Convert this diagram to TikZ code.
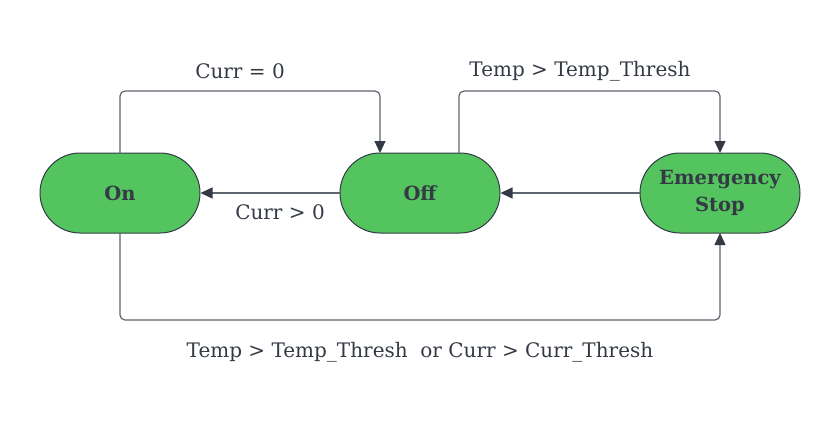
\documentclass[tikz,border=0pt]{standalone}
\usepackage{fontspec}
\setmainfont{DejaVu Serif}
\usetikzlibrary{arrows.meta}
\definecolor{stgreen}{HTML}{54C45E}
\definecolor{txt}{HTML}{343A45}
\definecolor{ln}{HTML}{5F656E}
\begin{document}
\begin{tikzpicture}[x=1pt,y=-1pt,
  state/.style={draw=txt, line width=1pt, fill=stgreen, rounded corners=40pt,
    minimum width=160pt, minimum height=80pt, inner sep=0pt, align=center,
    text=txt, font=\bfseries\fontsize{19.5}{27}\selectfont},
  conn/.style={draw=ln, line width=1.2pt, rounded corners=5pt,
    -{Triangle[length=12pt,width=11pt,fill=txt,color=txt]}},
  lbl/.style={text=txt, font=\fontsize{20}{24}\selectfont, inner sep=0pt}]
\useasboundingbox (0,0) rectangle (840,423);
\node[state] (on) at (120,193) {On};
\node[state] (off) at (420,193) {Off};
\node[state] (es) at (720,193) {Emergency\\Stop};
\coordinate (onTop) at (120,153);
\coordinate (offTopA) at (380,153);
\coordinate (offTopB) at (459,153);
\coordinate (esTop) at (720,153);
\coordinate (onBot) at (120,233);
\coordinate (esBot) at (720,233);
\draw[conn] (onTop) -- (120,91) -- (380,91) -- (offTopA);
\draw[conn] (off.west) -- (on.east);
\draw[conn] (offTopB) -- (459,91) -- (720,91) -- (esTop);
\draw[conn] (es.west) -- (off.east);
\draw[conn] (onBot) -- (120,320) -- (720,320) -- (esBot);
\node[lbl] (l1) at (240,71) {Curr = 0};
\node[lbl] (l2) at (280,212) {Curr > 0};
\node[lbl] (l3) at (580,71) {Temp > Temp\_Thresh};
\node[lbl] (l4) at (420,352) {Temp > Temp\_Thresh\ \ or Curr > Curr\_Thresh};
\end{tikzpicture}
\end{document}
